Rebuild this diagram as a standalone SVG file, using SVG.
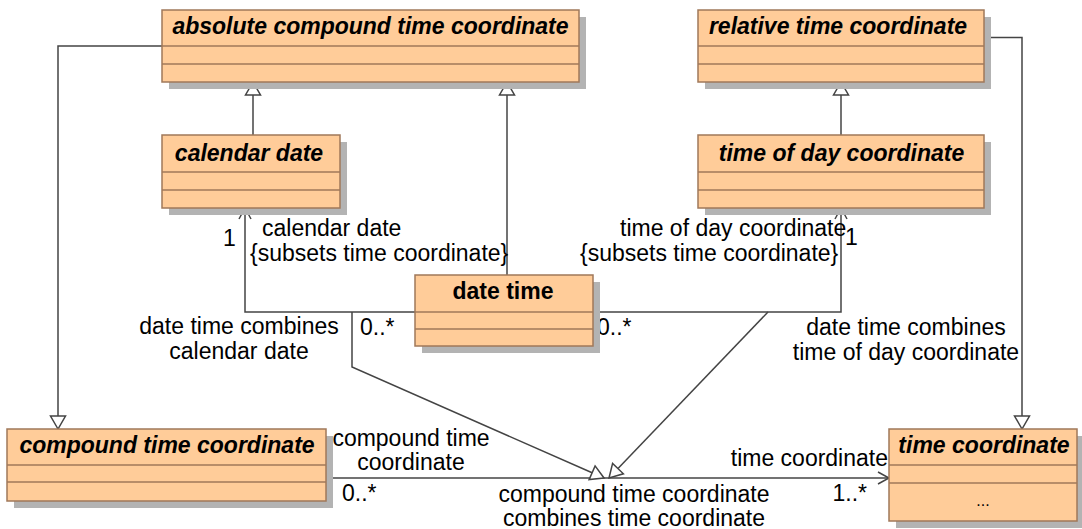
<svg xmlns="http://www.w3.org/2000/svg" width="1082" height="529" viewBox="0 0 1082 529">
<style>
.box{fill:#ffcc99;stroke:#a0785a;stroke-width:1.5}
.sh{fill:#b3b3b3}
.div{stroke:#a0785a;stroke-width:1.5}
.nm{font-family:"Liberation Sans",Arial,sans-serif;font-size:23px;font-weight:bold;font-style:italic;text-anchor:middle;fill:#000}
.nmb{font-family:"Liberation Sans",Arial,sans-serif;font-size:23px;font-weight:bold;text-anchor:middle;fill:#000}
.lb{font-family:"Liberation Sans",Arial,sans-serif;font-size:23px;fill:#000}
.e{fill:none;stroke:#444;stroke-width:1.5}
.tri{fill:#fff;stroke:#444;stroke-width:1.5}
</style>
<rect width="1082" height="529" fill="#fff"/>
<g id="connectors">
  <path class="e" d="M162,46 H58 V416"/>
  <polygon class="tri" points="58,429 50.5,416 65.5,416"/>
  <path class="e" d="M984,37.5 H1022 V416"/>
  <polygon class="tri" points="1022,429 1014.5,416 1029.5,416"/>
  <path class="e" d="M253,135 V95"/>
  <polygon class="tri" points="253,82 245.5,95 260.5,95"/>
  <path class="e" d="M507,275 V95"/>
  <polygon class="tri" points="507,82 499.5,95 514.5,95"/>
  <path class="e" d="M841,135 V95"/>
  <polygon class="tri" points="841,82 833.5,95 848.5,95"/>
  <path class="e" d="M415,312 H245 V208"/>
  <polyline class="e" points="239,219 245,208 251,219"/>
  <path class="e" d="M593,312 H841 V208"/>
  <polyline class="e" points="835,219 841,208 847,219"/>
  <path class="e" d="M326,478 H889"/>
  <polyline class="e" points="878,472 889,478 878,484"/>
  <path class="e" d="M352,312 V367 L592.1,472.8"/>
  <polygon class="tri" points="604,478 589.1,479.6 595.1,465.9"/>
  <path class="e" d="M768,312 L618,468.6"/>
  <polygon class="tri" points="609,478 612.6,463.4 623.4,473.8"/>
  <text class="lb" x="223" y="246">1</text>
  <text class="lb" x="262" y="236">calendar date</text>
  <text class="lb" x="250" y="261">{subsets time coordinate}</text>
  <text class="lb" x="620" y="236">time of day coordinate</text>
  <text class="lb" x="845" y="245">1</text>
  <text class="lb" x="580" y="261">{subsets time coordinate}</text>
  <text class="lb" x="360" y="335">0..*</text>
  <text class="lb" x="597" y="335">0..*</text>
  <text class="lb" x="239" y="334" text-anchor="middle">date time combines</text>
  <text class="lb" x="239" y="359" text-anchor="middle">calendar date</text>
  <text class="lb" x="906" y="335" text-anchor="middle">date time combines</text>
  <text class="lb" x="906" y="360" text-anchor="middle">time of day coordinate</text>
  <text class="lb" x="411" y="446" text-anchor="middle">compound time</text>
  <text class="lb" x="411" y="470" text-anchor="middle">coordinate</text>
  <text class="lb" x="342" y="501">0..*</text>
  <text class="lb" x="888" y="466" text-anchor="end">time coordinate</text>
  <text class="lb" x="867" y="501" text-anchor="end">1..*</text>
  <text class="lb" x="634" y="502" text-anchor="middle">compound time coordinate</text>
  <text class="lb" x="634" y="526" text-anchor="middle">combines time coordinate</text>
</g>
<g id="absolute-compound-time-coordinate">
  <rect class="sh" x="169" y="17" width="417" height="72"/>
  <rect class="box" x="162" y="10" width="417" height="72"/>
  <line class="div" x1="162" y1="46" x2="579" y2="46"/>
  <line class="div" x1="162" y1="64" x2="579" y2="64"/>
  <text class="nm" x="370.5" y="34">absolute compound time coordinate</text>
</g>
<g id="relative-time-coordinate">
  <rect class="sh" x="705" y="17" width="286" height="72"/>
  <rect class="box" x="698" y="10" width="286" height="72"/>
  <line class="div" x1="698" y1="46" x2="984" y2="46"/>
  <line class="div" x1="698" y1="64" x2="984" y2="64"/>
  <text class="nm" x="838" y="34">relative time coordinate</text>
</g>
<g id="calendar-date">
  <rect class="sh" x="169" y="142" width="178" height="73"/>
  <rect class="box" x="162" y="135" width="178" height="73"/>
  <line class="div" x1="162" y1="172" x2="340" y2="172"/>
  <line class="div" x1="162" y1="190" x2="340" y2="190"/>
  <text class="nm" x="249" y="161">calendar date</text>
</g>
<g id="time-of-day-coordinate">
  <rect class="sh" x="705" y="142" width="286" height="73"/>
  <rect class="box" x="698" y="135" width="286" height="73"/>
  <line class="div" x1="698" y1="172" x2="984" y2="172"/>
  <line class="div" x1="698" y1="190" x2="984" y2="190"/>
  <text class="nm" x="841.5" y="161">time of day coordinate</text>
</g>
<g id="date-time">
  <rect class="sh" x="422" y="282" width="178" height="71"/>
  <rect class="box" x="415" y="275" width="178" height="71"/>
  <line class="div" x1="415" y1="312" x2="593" y2="312"/>
  <line class="div" x1="415" y1="329" x2="593" y2="329"/>
  <text class="nmb" x="503" y="299">date time</text>
</g>
<g id="compound-time-coordinate">
  <rect class="sh" x="14" y="436" width="319" height="72"/>
  <rect class="box" x="7" y="429" width="319" height="72"/>
  <line class="div" x1="7" y1="465" x2="326" y2="465"/>
  <line class="div" x1="7" y1="482" x2="326" y2="482"/>
  <text class="nm" x="167" y="453">compound time coordinate</text>
</g>
<g id="time-coordinate">
  <rect class="sh" x="896" y="436" width="188" height="92"/>
  <rect class="box" x="889" y="429" width="188" height="92"/>
  <line class="div" x1="889" y1="465" x2="1077" y2="465"/>
  <line class="div" x1="889" y1="483" x2="1077" y2="483"/>
  <text class="nm" x="984" y="453">time coordinate</text>
  <text class="lb" x="983" y="506" text-anchor="middle" style="font-size:16px">...</text>
</g>
</svg>
